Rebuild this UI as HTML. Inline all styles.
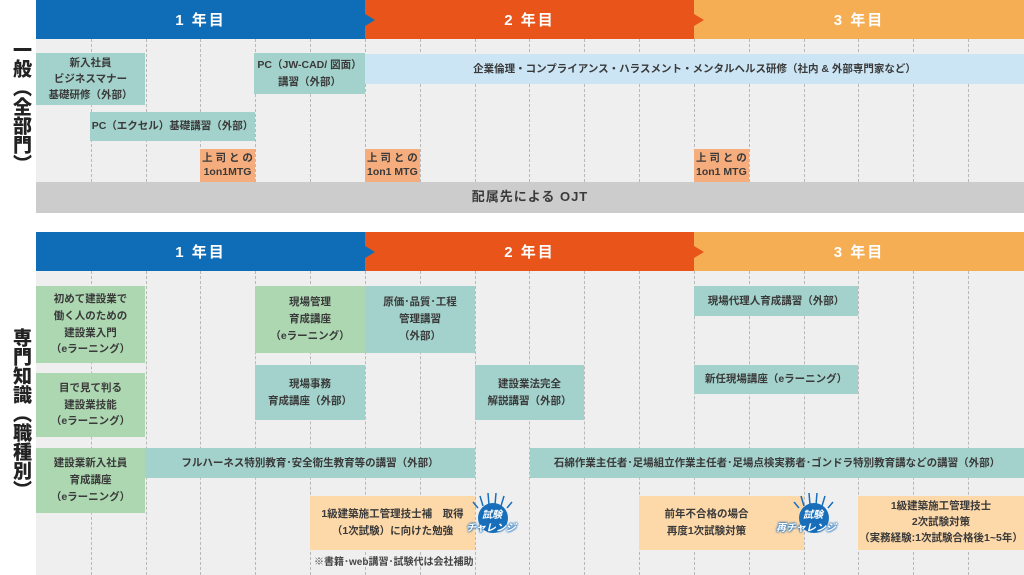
<!DOCTYPE html>
<html><head><meta charset="utf-8"><style>
*{margin:0;padding:0;box-sizing:border-box}
body{width:1024px;height:575px;background:#fff;position:relative;overflow:hidden;font-family:"Liberation Sans","Noto Sans CJK JP",sans-serif;color:#333}
.a{position:absolute}
.panel{position:absolute;left:36px;width:988px;background:#efefef}
.hd{position:absolute;height:39px;color:#fff;font-weight:bold;font-size:15px;display:flex;align-items:center;justify-content:center;letter-spacing:2px}
.tri{position:absolute;width:0;height:0;border-top:6px solid transparent;border-bottom:6px solid transparent;border-left:10px solid}
.b{position:absolute;display:flex;align-items:center;justify-content:center;text-align:center;font-size:10.5px;line-height:1.55;font-weight:bold;color:#3a3a3a}
.t{background:#a3d1cb}.g{background:#acd7b1}.lb{background:#cbe5f5}.s{background:#f6ad7e}.p{background:#fdd8a9}
.vl{position:absolute;width:0;border-left:1px dashed #b8b8b8}
.side{position:absolute;writing-mode:vertical-rl;font-weight:900;font-size:19px;color:#222;letter-spacing:0px}
.badge{position:absolute;width:30px;height:30px;border-radius:50%;background:#1a6fba}
.bt{position:absolute;font-size:10px;font-weight:bold;color:#fff;font-style:italic;text-shadow:0 0 2px #1a6fba,0 0 2px #1a6fba,0 0 2px #1a6fba}
</style></head><body>
<div class="panel" style="top:39px;height:143px"></div>
<div class="hd" style="left:36px;top:0;width:329px;background:#0f6db7">1 年目</div>
<div class="hd" style="left:365px;top:0;width:329px;background:#e9541a">2 年目</div>
<div class="hd" style="left:694px;top:0;width:330px;background:#f6ae55">3 年目</div>
<div class="tri" style="left:365px;top:14px;border-left-color:#0f6db7"></div>
<div class="tri" style="left:694px;top:14px;border-left-color:#e9541a"></div>
<div id="v1"></div>
<div class="b t" style="left:36px;top:53px;width:109px;height:52px">新入社員<br>ビジネスマナー<br>基礎研修（外部）</div>
<div class="b t" style="left:254px;top:53px;width:111px;height:41px">PC（JW-CAD/ 図面）<br>講習（外部）</div>
<div class="b lb" style="left:365px;top:54px;width:659px;height:30px">企業倫理・コンプライアンス・ハラスメント・メンタルヘルス研修（社内 &amp; 外部専門家など）</div>
<div class="b t" style="left:90px;top:112px;width:165px;height:29px">PC（エクセル）基礎講習（外部）</div>
<div class="b s" style="left:200px;top:149px;width:55px;height:33px;line-height:1.3">上 司 と の<br>1on1MTG</div>
<div class="b s" style="left:365px;top:149px;width:55px;height:33px;line-height:1.3;justify-content:flex-start;padding-left:2px;text-align:left">上 司 と の<br>1on1 MTG</div>
<div class="b s" style="left:694px;top:149px;width:55px;height:33px;line-height:1.3;justify-content:flex-start;padding-left:2px;text-align:left">上 司 と の<br>1on1 MTG</div>
<div class="b" style="left:36px;top:182px;width:988px;height:31px;background:#cccccc;font-size:13px;letter-spacing:1px">配属先による OJT</div>
<div class="side" style="left:7px;top:40px">一般（全部門）</div>

<div class="panel" style="top:271px;height:304px"></div>
<div class="hd" style="left:36px;top:232px;width:329px;background:#0f6db7">1 年目</div>
<div class="hd" style="left:365px;top:232px;width:329px;background:#e9541a">2 年目</div>
<div class="hd" style="left:694px;top:232px;width:330px;background:#f6ae55">3 年目</div>
<div class="tri" style="left:365px;top:246px;border-left-color:#0f6db7"></div>
<div class="tri" style="left:694px;top:246px;border-left-color:#e9541a"></div>
<div id="v2"></div>
<div class="side" style="left:7px;top:328px">専門知識（職種別）</div>
<div class="b g" style="left:36px;top:286px;width:109px;height:77px;line-height:1.6">初めて建設業で<br>働く人のための<br>建設業入門<br>（eラーニング）</div>
<div class="b g" style="left:36px;top:373px;width:109px;height:64px;line-height:1.6">目で見て判る<br>建設業技能<br>（eラーニング）</div>
<div class="b g" style="left:36px;top:448px;width:109px;height:65px;line-height:1.6">建設業新入社員<br>育成講座<br>（eラーニング）</div>
<div class="b g" style="left:255px;top:286px;width:110px;height:67px;line-height:1.6">現場管理<br>育成講座<br>（eラーニング）</div>
<div class="b t" style="left:365px;top:286px;width:110px;height:67px;line-height:1.6">原価･品質･工程<br>管理講習<br>（外部）</div>
<div class="b t" style="left:255px;top:365px;width:110px;height:55px;line-height:1.6">現場事務<br>育成講座（外部）</div>
<div class="b t" style="left:475px;top:365px;width:109px;height:55px;line-height:1.6">建設業法完全<br>解説講習（外部）</div>
<div class="b t" style="left:694px;top:286px;width:164px;height:30px">現場代理人育成講習（外部）</div>
<div class="b t" style="left:694px;top:365px;width:164px;height:29px">新任現場講座（eラーニング）</div>
<div class="b t" style="left:145px;top:448px;width:330px;height:30px">フルハーネス特別教育･安全衛生教育等の講習（外部）</div>
<div class="b t" style="left:530px;top:448px;width:494px;height:30px">石綿作業主任者･足場組立作業主任者･足場点検実務者･ゴンドラ特別教育講などの講習（外部）</div>
<div class="b p" style="left:310px;top:496px;width:165px;height:54px;line-height:1.65">1級建築施工管理技士補　取得<br>（1次試験）に向けた勉強</div>
<div class="b p" style="left:639px;top:496px;width:165px;height:54px;line-height:1.65;padding-right:30px">前年不合格の場合<br>再度1次試験対策</div>
<div class="b p" style="left:858px;top:496px;width:166px;height:54px;line-height:1.5">1級建築施工管理技士<br>2次試験対策<br>（実務経験:1次試験合格後1~5年）</div>
<div class="a" style="left:314px;top:553px;font-size:10px;font-weight:bold;color:#444">※書籍･web講習･試験代は会社補助</div>
<svg class="a" style="left:470px;top:490px" width="50" height="20"><g stroke="#1a6fba" stroke-width="1.5"><line x1="8" y1="18" x2="3" y2="12"/><line x1="13" y1="16" x2="10" y2="6"/><line x1="19" y1="15" x2="18" y2="3"/><line x1="25" y1="15" x2="26" y2="3"/><line x1="31" y1="16" x2="34" y2="6"/><line x1="37" y1="18" x2="42" y2="12"/></g></svg>
<div class="badge" style="left:478px;top:503px"></div>
<div class="bt" style="left:482px;top:506px">試験</div>
<div class="bt" style="left:466px;top:519px">チャレンジ</div>
<svg class="a" style="left:791px;top:490px" width="50" height="20"><g stroke="#1a6fba" stroke-width="1.5"><line x1="8" y1="18" x2="3" y2="12"/><line x1="13" y1="16" x2="10" y2="6"/><line x1="19" y1="15" x2="18" y2="3"/><line x1="25" y1="15" x2="26" y2="3"/><line x1="31" y1="16" x2="34" y2="6"/><line x1="37" y1="18" x2="42" y2="12"/></g></svg>
<div class="badge" style="left:799px;top:503px"></div>
<div class="bt" style="left:803px;top:506px">試験</div>
<div class="bt" style="left:776px;top:519px">再チャレンジ</div>
<script>
function lines(id,top,h){var e=document.getElementById(id),s='';for(var k=1;k<18;k++){s+='<div class="vl" style="left:'+Math.round(36+54.83*k)+'px;top:'+top+'px;height:'+h+'px"></div>';}e.outerHTML=s;}
lines('v1',39,143);lines('v2',271,304);
</script>
</body></html>
